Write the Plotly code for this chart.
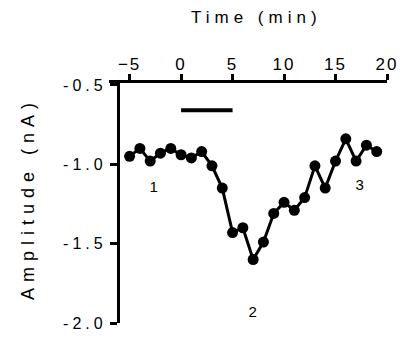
import plotly.graph_objects as go

time_min = [-5, -4, -3, -2, -1, 0, 1, 2, 3, 4, 5, 6, 7, 8, 9, 10, 11, 12, 13, 14, 15, 16, 17, 18, 19]
amplitude = [-0.95, -0.90, -0.98, -0.93, -0.90, -0.94, -0.96, -0.92, -1.01, -1.15, -1.43, -1.40, -1.60,
             -1.49, -1.31, -1.24, -1.29, -1.21, -1.01, -1.15, -0.98, -0.84, -0.98, -0.88, -0.92]
stim_x = [0, 5]
stim_y = [-0.66, -0.66]
label_text = ["1", "2", "3"]
label_x = [-2.4, 7.2, 17.6]
label_y = [-1.14, -1.93, -1.13]
x_ticks = [-5, 0, 5, 10, 15, 20]
y_ticks = [-0.5, -1.0, -1.5, -2.0]
y_ticklabels = ["-0.5", "-1.0", "-1.5", "-2.0"]

FONT = "Arial, 'Liberation Sans', sans-serif"

fig = go.Figure()
fig.add_trace(go.Scatter(x=time_min, y=amplitude, mode="lines+markers",
                         line=dict(color="black", width=3),
                         marker=dict(color="black", size=11), showlegend=False))
fig.add_trace(go.Scatter(x=stim_x, y=stim_y, mode="lines",
                         line=dict(color="black", width=4), showlegend=False))

for t, x, y in zip(label_text, label_x, label_y):
    fig.add_annotation(x=x, y=y, text=t, showarrow=False,
                       font=dict(family=FONT, size=15, color="black"))

fig.add_annotation(x=0.5, y=1, xref="paper", yref="paper", xanchor="center", yanchor="bottom",
                   yshift=54, xshift=8, text="Time (min)", showarrow=False,
                   font=dict(family=FONT, size=17, color="black"))
fig.add_annotation(x=0, y=0.5, xref="paper", yref="paper", xanchor="center", yanchor="middle",
                   xshift=-81, yshift=4, text="Amplitude (nA)", textangle=-90, showarrow=False,
                   font=dict(family=FONT, size=18, color="black"))

fig.update_layout(
    width=408, height=344,
    margin=dict(l=109, r=15, t=83, b=16),
    paper_bgcolor="white", plot_bgcolor="white",
    font=dict(family=FONT, size=15, color="black"),
    xaxis=dict(range=[-7, 20], side="top", anchor="y", tickvals=x_ticks,
               showgrid=False, zeroline=False, showline=True, linecolor="black", linewidth=3,
               ticks="outside", ticklen=6, tickwidth=3, tickcolor="black",
               ticklabelstandoff=-3,
               tickfont=dict(family=FONT, size=17, color="black")),
    yaxis=dict(range=[-2.0, -0.488], anchor="free", position=0.032,
               tickvals=y_ticks, ticktext=y_ticklabels,
               showgrid=False, zeroline=False, showline=True, linecolor="black", linewidth=3,
               ticks="outside", ticklen=7, tickwidth=3, tickcolor="black",
               tickfont=dict(family=FONT, size=16, color="black")),
)

post = """
var s=document.createElement('style');
s.innerHTML='.xtick text{letter-spacing:2px;} .ytick text{letter-spacing:4px;} '
 + '.annotation text{letter-spacing:5px;} .annotation[data-index="4"] text{letter-spacing:6px;}';
document.head.appendChild(s);
"""
fig.write_html("out.html", post_script=post)
